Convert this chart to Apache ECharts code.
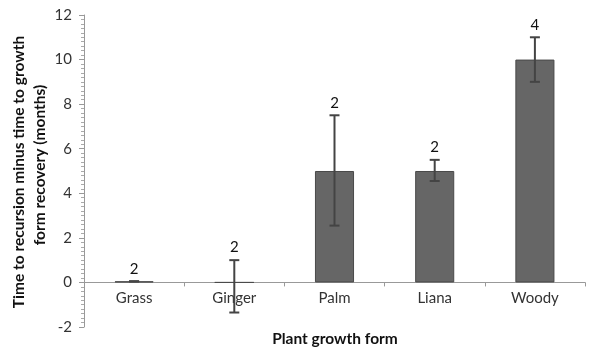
<!DOCTYPE html>
<html>
<head>
<meta charset="utf-8">
<script src="https://cdn.jsdelivr.net/npm/echarts@6/dist/echarts.min.js"></script>
<style>html,body{margin:0;padding:0;background:#fff;}#c{width:600px;height:357px;}</style>
</head>
<body>
<div id="c"></div>
<script>
const categories = ['Grass', 'Ginger', 'Palm', 'Liana', 'Woody'];
const values = [0.05, 0, 5, 5, 10];
const errLow = [0.05, -1.35, 2.55, 4.55, 9];
const errHigh = [0.05, 1, 7.5, 5.5, 11];
const nLabels = ['2', '2', '2', '2', '4'];
const yTicks = [-2, 0, 2, 4, 6, 8, 10, 12];

const FONT = 'Lato, "Open Sans", sans-serif';
const chart = echarts.init(document.getElementById('c'));

const errData = categories.map((c, i) => [i, errLow[i], errHigh[i], nLabels[i]]);
const gridTop = 15, gridBottom = 30, H = 357;
// distance in px from the bottom of the grid to the zero line
const plotH = H - gridTop - gridBottom;
const zeroOffset = plotH * (0 - yTicks[0]) / (yTicks[yTicks.length - 1] - yTicks[0]);

chart.setOption({
  animation: false,
  grid: { left: 84, right: 15, top: gridTop, bottom: gridBottom, containLabel: false },
  xAxis: {
    type: 'category',
    data: categories,
    position: 'bottom',
    offset: -zeroOffset,
    axisLine: { onZero: false, lineStyle: { color: '#999', width: 1 } },
    axisTick: { show: true, alignWithLabel: false, length: 4, lineStyle: { color: '#999' } },
    axisLabel: { color: '#333', fontSize: 15, fontFamily: FONT, margin: 8 },
    splitLine: { show: false }
  },
  yAxis: {
    type: 'value',
    min: yTicks[0], max: yTicks[yTicks.length - 1], interval: 2,
    axisLine: { show: true, lineStyle: { color: '#999' } },
    axisTick: { show: true, length: 5, lineStyle: { color: '#999' } },
    minorTick: { show: true, splitNumber: 10, length: 3, lineStyle: { color: '#aaa' } },
    axisLabel: { color: '#333', fontSize: 15, fontFamily: FONT, margin: 12 },
    splitLine: { show: false }
  },
  graphic: [
    { type: 'text', x: 19, y: 172, rotation: Math.PI / 2,
      style: { text: 'Time to recursion minus time to growth', fontSize: 15.5, fontWeight: 'bold', fontFamily: FONT, fill: '#111', align: 'center', verticalAlign: 'middle' } },
    { type: 'text', x: 40, y: 165, rotation: Math.PI / 2,
      style: { text: 'form recovery (months)', fontSize: 15.5, fontWeight: 'bold', fontFamily: FONT, fill: '#111', align: 'center', verticalAlign: 'middle' } },
    { type: 'text', x: 335, y: 339,
      style: { text: 'Plant growth form', fontSize: 15.5, fontWeight: 'bold', fontFamily: FONT, fill: '#111', align: 'center', verticalAlign: 'middle' } }
  ],
  series: [
    {
      type: 'bar',
      data: values,
      barWidth: '39%',
      itemStyle: { color: '#666666', borderColor: '#4a4a4a', borderWidth: 1 }
    },
    {
      type: 'custom',
      data: errData,
      z: 10,
      renderItem: function (params, api) {
        const x = api.value(0);
        const lo = api.coord([x, api.value(1)]);
        const hi = api.coord([x, api.value(2)]);
        const cap = 5;
        const color = '#444';
        const children = [
          { type: 'line', shape: { x1: hi[0], y1: hi[1], x2: lo[0], y2: lo[1] }, style: { stroke: color, lineWidth: 2 } },
          { type: 'line', shape: { x1: hi[0] - cap, y1: hi[1], x2: hi[0] + cap, y2: hi[1] }, style: { stroke: color, lineWidth: 2 } },
          { type: 'line', shape: { x1: lo[0] - cap, y1: lo[1], x2: lo[0] + cap, y2: lo[1] }, style: { stroke: color, lineWidth: 2 } },
          { type: 'text', style: { text: api.value(3), x: hi[0], y: hi[1] - 5, align: 'center', verticalAlign: 'bottom', fontSize: 15, fontFamily: FONT, fill: '#111' } }
        ];
        return { type: 'group', children: children };
      }
    }
  ]
});
</script>
</body>
</html>
